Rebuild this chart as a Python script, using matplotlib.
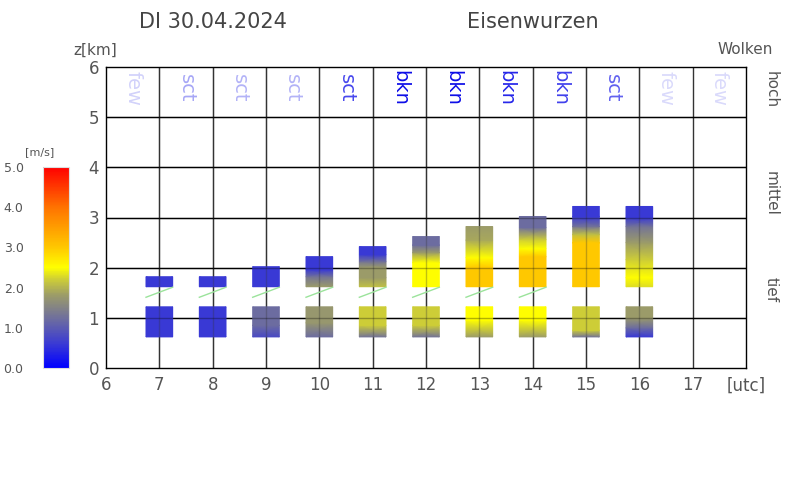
import numpy as np
import matplotlib
matplotlib.use("Agg")
import matplotlib.pyplot as plt
from matplotlib.colors import LinearSegmentedColormap, Normalize
from matplotlib.cm import ScalarMappable

# ---------------- data ----------------
hours = [7, 8, 9, 10, 11, 12, 13, 14, 15, 16]

# lower layer: heights (km) and wind speeds (m/s) along the layer, bottom -> top
lower_z = [
    [0.62, 1.22], [0.62, 1.22], [0.62, 0.85, 1.22], [0.62, 0.9, 1.22],
    [0.62, 0.85, 1.22], [0.62, 0.85, 1.22], [0.62, 0.95, 1.22],
    [0.62, 0.95, 1.22], [0.62, 0.75, 1.22], [0.62, 0.8, 1.0, 1.22],
]
lower_speed = [
    [0.6, 0.6], [0.6, 0.6], [0.8, 1.2, 1.2], [1.2, 1.75, 1.75],
    [1.3, 2.2, 2.2], [1.3, 2.2, 2.2], [1.8, 2.5, 2.5],
    [1.8, 2.5, 2.5], [1.3, 2.2, 2.2], [0.6, 1.2, 1.8, 1.8],
]

# upper layer
upper_z = [
    [1.62, 1.82],
    [1.62, 1.82],
    [1.62, 2.02],
    [1.62, 1.82, 1.96, 2.22],
    [1.62, 1.8, 2.0, 2.12, 2.26, 2.42],
    [1.62, 2.1, 2.3, 2.45, 2.62],
    [1.62, 2.0, 2.2, 2.55, 2.82],
    [1.62, 2.22, 2.38, 2.56, 2.8, 3.02],
    [1.62, 2.5, 2.66, 2.82, 3.02, 3.22],
    [1.62, 1.8, 2.16, 2.5, 2.82, 3.0, 3.22],
]
upper_speed = [
    [0.6, 0.6],
    [0.6, 0.6],
    [0.6, 0.6],
    [1.8, 1.3, 0.6, 0.6],
    [2.1, 1.8, 1.8, 1.3, 0.6, 0.6],
    [2.5, 2.5, 1.8, 1.2, 1.2],
    [3.0, 3.0, 2.5, 1.9, 1.8],
    [3.0, 3.0, 2.5, 2.2, 1.2, 1.2],
    [3.0, 3.0, 2.1, 1.3, 0.6, 0.6],
    [2.3, 2.5, 2.2, 1.8, 1.3, 0.6, 0.6],
]

# thin green wind lines between layers
wind_line_hours = [7, 8, 9, 10, 11, 12, 13, 14]
wind_line_z0 = 1.41
wind_line_z1 = 1.61

# cloud cover labels (upper row)
cloud_x = [6.5, 7.5, 8.5, 9.5, 10.5, 11.5, 12.5, 13.5, 14.5, 15.5, 16.5, 17.5]
cloud_labels = ["few", "sct", "sct", "sct", "sct", "bkn", "bkn", "bkn", "bkn", "sct", "few", "few"]
cloud_alpha = [0.18, 0.35, 0.3, 0.3, 0.72, 0.95, 0.95, 0.85, 0.75, 0.62, 0.15, 0.15]

x_ticks = list(range(6, 19))
x_tick_labels = [str(h) for h in range(6, 18)] + ["[utc]"]
y_ticks = [0, 1, 2, 3, 4, 5, 6]
cbar_ticks = [0, 1, 2, 3, 4, 5]
cbar_labels = ["0.0", "1.0", "2.0", "3.0", "4.0", "5.0"]

# ---------------- style ----------------
FONT = "DejaVu Sans"
TXT = "#555555"

cmap = LinearSegmentedColormap.from_list(
    "wind",
    [
        (0.0 / 5, (0 / 255, 0 / 255, 255 / 255)),
        (0.6 / 5, (58 / 255, 58 / 255, 212 / 255)),
        (1.2 / 5, (108 / 255, 108 / 255, 160 / 255)),
        (1.8 / 5, (155 / 255, 155 / 255, 105 / 255)),
        (2.2 / 5, (205 / 255, 205 / 255, 55 / 255)),
        (2.5 / 5, (255 / 255, 255 / 255, 0 / 255)),
        (3.0 / 5, (255 / 255, 200 / 255, 0 / 255)),
        (4.0 / 5, (255 / 255, 115 / 255, 0 / 255)),
        (5.0 / 5, (255 / 255, 0 / 255, 0 / 255)),
    ],
)
norm = Normalize(0, 5)

fig = plt.figure(figsize=(8, 5), dpi=100)
ax = fig.add_axes([106 / 800, 132 / 500, 640 / 800, 301 / 500])
ax.set_xlim(6, 18)
ax.set_ylim(0, 6)

# grid below
for h in range(7, 18):
    ax.axvline(h, color="#333333", lw=1.0, zorder=1)
for z in range(1, 6):
    ax.axhline(z, color="black", lw=1.0, zorder=1)

half_w = 0.25


def draw_bar(h, zs, sp):
    X, Y = np.meshgrid([h - half_w, h + half_w], zs)
    C = np.column_stack([sp, sp])
    ax.pcolormesh(X, Y, C, shading="gouraud", cmap=cmap, norm=norm, zorder=2)


for i, h in enumerate(hours):
    draw_bar(h, lower_z[i], lower_speed[i])
    draw_bar(h, upper_z[i], upper_speed[i])

# grid faintly visible on top of bars
for h in hours:
    ax.axvline(h, color="#333333", lw=1.0, alpha=0.3, zorder=3)
for z in range(1, 6):
    ax.axhline(z, color="black", lw=1.0, alpha=0.3, zorder=3)

for h in wind_line_hours:
    ax.plot([h - half_w, h + half_w], [wind_line_z0, wind_line_z1],
            color="#9be39b", lw=1.0, zorder=4)

for x, lab, a in zip(cloud_x, cloud_labels, cloud_alpha):
    ax.text(x, 5.58, lab, rotation=270, ha="center", va="center",
            fontsize=14, family=FONT, color=(0.0, 0.0, 0.9, a), zorder=5)

ax.set_xticks(x_ticks)
ax.set_xticklabels(x_tick_labels)
ax.set_yticks(y_ticks)
ax.tick_params(length=0, labelsize=12, colors=TXT)
ax.tick_params(axis="x", pad=6)
ax.tick_params(axis="y", pad=5)
for s in ax.spines.values():
    s.set_color("black")
    s.set_linewidth(1.0)
    s.set_zorder(6)

# text around the plot
fig.text(213 / 800, 1 - 22 / 500, "DI 30.04.2024", ha="center", va="center",
         fontsize=15, color="#444444", family=FONT)
fig.text(533 / 800, 1 - 22 / 500, "Eisenwurzen", ha="center", va="center",
         fontsize=15, color="#444444", family=FONT)
fig.text(95 / 800, 1 - 50 / 500, "z[km]", ha="center", va="center",
         fontsize=11, color=TXT, family=FONT)
fig.text(773 / 800, 1 - 50 / 500, "Wolken", ha="right", va="center",
         fontsize=11, color=TXT, family=FONT)
for lab, ypx in [("hoch", 90), ("mittel", 193), ("tief", 290)]:
    fig.text(771 / 800, 1 - ypx / 500, lab, rotation=270, ha="center",
             va="center", fontsize=11, color=TXT, family=FONT)

# colour bar
cax = fig.add_axes([43 / 800, 132 / 500, 26 / 800, 201 / 500])
cb = fig.colorbar(ScalarMappable(norm=norm, cmap=cmap), cax=cax)
cb.outline.set_edgecolor("#dddddd")
cax.yaxis.set_ticks_position("left")
cax.set_yticks(cbar_ticks)
cax.set_yticklabels(cbar_labels)
cax.tick_params(length=0, labelsize=9, colors=TXT, pad=14)
fig.text(40 / 800, 1 - 152 / 500, "[m/s]", ha="center", va="center",
         fontsize=8, color=TXT, family=FONT)

fig.savefig("out.png", dpi=100)
